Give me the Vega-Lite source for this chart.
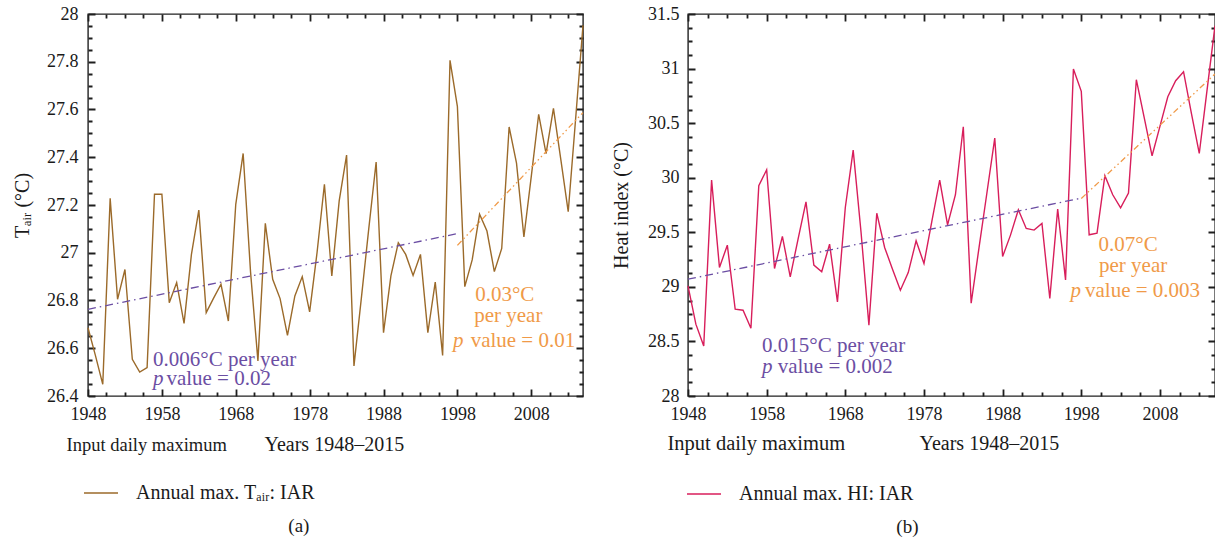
{
  "$schema": "https://vega.github.io/schema/vega-lite/v6.json",
  "background": "white",
  "padding": {"left": 11, "top": 4, "right": 2, "bottom": 2},
  "spacing": 23,
  "datasets": {
    "tair": [
      {"year":1948,"v":26.686},{"year":1949,"v":26.57},{"year":1950,"v":26.449},{"year":1951,"v":27.228},{"year":1952,"v":26.805},
      {"year":1953,"v":26.93},{"year":1954,"v":26.554},{"year":1955,"v":26.50},{"year":1956,"v":26.519},{"year":1957,"v":27.245},
      {"year":1958,"v":27.245},{"year":1959,"v":26.791},{"year":1960,"v":26.875},{"year":1961,"v":26.704},{"year":1962,"v":26.993},
      {"year":1963,"v":27.179},{"year":1964,"v":26.749},{"year":1965,"v":26.81},{"year":1966,"v":26.868},{"year":1967,"v":26.714},
      {"year":1968,"v":27.203},{"year":1969,"v":27.416},{"year":1970,"v":26.92},{"year":1971,"v":26.547},{"year":1972,"v":27.123},
      {"year":1973,"v":26.889},{"year":1974,"v":26.808},{"year":1975,"v":26.654},{"year":1976,"v":26.819},{"year":1977,"v":26.90},
      {"year":1978,"v":26.752},{"year":1979,"v":27.0},{"year":1980,"v":27.287},{"year":1981,"v":26.903},{"year":1982,"v":27.217},
      {"year":1983,"v":27.409},{"year":1984,"v":26.526},{"year":1985,"v":26.81},{"year":1986,"v":27.10},{"year":1987,"v":27.38},
      {"year":1988,"v":26.665},{"year":1989,"v":26.903},{"year":1990,"v":27.042},{"year":1991,"v":26.993},{"year":1992,"v":26.905},
      {"year":1993,"v":26.993},{"year":1994,"v":26.665},{"year":1995,"v":26.877},{"year":1996,"v":26.57},{"year":1997,"v":27.806},
      {"year":1998,"v":27.612},{"year":1999,"v":26.858},{"year":2000,"v":26.97},{"year":2001,"v":27.161},{"year":2002,"v":27.091},
      {"year":2003,"v":26.921},{"year":2004,"v":27.018},{"year":2005,"v":27.527},{"year":2006,"v":27.375},{"year":2007,"v":27.066},
      {"year":2008,"v":27.32},{"year":2009,"v":27.58},{"year":2010,"v":27.415},{"year":2011,"v":27.605},{"year":2012,"v":27.39},
      {"year":2013,"v":27.172},{"year":2014,"v":27.56},{"year":2015,"v":27.953}
    ],
    "hi": [
      {"year":1948,"v":29.009},{"year":1949,"v":28.658},{"year":1950,"v":28.459},{"year":1951,"v":29.978},{"year":1952,"v":29.177},
      {"year":1953,"v":29.382},{"year":1954,"v":28.795},{"year":1955,"v":28.786},{"year":1956,"v":28.621},{"year":1957,"v":29.926},
      {"year":1958,"v":30.073},{"year":1959,"v":29.168},{"year":1960,"v":29.462},{"year":1961,"v":29.092},{"year":1962,"v":29.44},
      {"year":1963,"v":29.779},{"year":1964,"v":29.199},{"year":1965,"v":29.138},{"year":1966,"v":29.391},{"year":1967,"v":28.862},
      {"year":1968,"v":29.727},{"year":1969,"v":30.253},{"year":1970,"v":29.5},{"year":1971,"v":28.649},{"year":1972,"v":29.675},
      {"year":1973,"v":29.361},{"year":1974,"v":29.162},{"year":1975,"v":28.969},{"year":1976,"v":29.131},{"year":1977,"v":29.422},
      {"year":1978,"v":29.214},{"year":1979,"v":29.6},{"year":1980,"v":29.978},{"year":1981,"v":29.568},{"year":1982,"v":29.844},
      {"year":1983,"v":30.467},{"year":1984,"v":28.85},{"year":1985,"v":29.36},{"year":1986,"v":29.86},{"year":1987,"v":30.363},
      {"year":1988,"v":29.278},{"year":1989,"v":29.474},{"year":1990,"v":29.706},{"year":1991,"v":29.535},{"year":1992,"v":29.52},
      {"year":1993,"v":29.581},{"year":1994,"v":28.893},{"year":1995,"v":29.712},{"year":1996,"v":29.064},{"year":1997,"v":30.996},
      {"year":1998,"v":30.791},{"year":1999,"v":29.477},{"year":2000,"v":29.492},{"year":2001,"v":30.018},{"year":2002,"v":29.844},
      {"year":2003,"v":29.724},{"year":2004,"v":29.859},{"year":2005,"v":30.898},{"year":2006,"v":30.55},{"year":2007,"v":30.201},
      {"year":2008,"v":30.47},{"year":2009,"v":30.742},{"year":2010,"v":30.889},{"year":2011,"v":30.971},{"year":2012,"v":30.59},
      {"year":2013,"v":30.222},{"year":2014,"v":30.81},{"year":2015,"v":31.393}
    ],
    "trendA1": [{"year":1948,"v":26.763},{"year":1998,"v":27.08}],
    "trendA2": [{"year":1998,"v":27.031},{"year":2015,"v":27.587}],
    "trendB1": [{"year":1948,"v":29.07},{"year":1998,"v":29.813}],
    "trendB2": [{"year":1998,"v":29.81},{"year":2015,"v":30.95}],
    "annA_purple": [{"year":1956.81,"v":26.551,"t":"0.006°C per year"},{"year":1958.61,"v":26.47,"t":"value = 0.02"}],
    "annA_purple_p": [{"year":1956.81,"v":26.47,"t":"p"}],
    "annA_orange_c": [{"year":2004.41,"v":26.822,"t":"0.03°C"},{"year":2004.89,"v":26.735,"t":"per year"}],
    "annA_orange_l": [{"year":1999.79,"v":26.63,"t":"value = 0.01"}],
    "annA_orange_p": [{"year":1997.40,"v":26.63,"t":"p"}],
    "annB_purple": [{"year":1957.41,"v":28.459,"t":"0.015°C per year"},{"year":1959.4,"v":28.269,"t":"value = 0.002"}],
    "annB_purple_p": [{"year":1957.41,"v":28.269,"t":"p"}],
    "annB_orange_c": [{"year":2003.95,"v":29.382,"t":"0.07°C"},{"year":2004.59,"v":29.192,"t":"per year"}],
    "annB_orange_l": [{"year":1998.47,"v":28.963,"t":"value = 0.003"}],
    "annB_orange_p": [{"year":1996.64,"v":28.963,"t":"p"}]
  },
  "hconcat": [
    {
      "width": 495,
      "height": 382,
      "title": {"text": "(a)", "orient": "bottom", "anchor": "middle", "frame": "bounds", "offset": 14},
      "resolve": {"axis": {"x": "independent", "y": "independent"}},
      "layer": [
        {
          "data": {"name": "tair"},
          "mark": {"type": "line", "strokeWidth": 1.4},
          "encoding": {
            "x": {"field": "year", "type": "quantitative", "scale": {"domain": [1948, 2015], "nice": false, "zero": false},
                  "axis": {"orient": "bottom", "values": [1948,1958,1968,1978,1988,1998,2008], "format": "d", "ticks": false, "labelPadding": 9, "labelFlush": false,
                           "grid": true, "gridDash": [7, 368, 7, 2000], "gridColor": "#1f1f1f", "gridWidth": 1.8, "gridOpacity": 1,
                           "title": "Years 1948–2015", "titleX": 176, "titleY": 48, "titleAlign": "left", "titleAnchor": "start", "titleBaseline": "middle", "titleFontSize": 20}},
            "y": {"field": "v", "type": "quantitative", "scale": {"domain": [26.4, 28], "nice": false, "zero": false},
                  "axis": {"orient": "left", "values": [26.4,26.6,26.8,27,27.2,27.4,27.6,27.8,28], "format": "~g", "ticks": false, "labelPadding": 10, "labelFlush": false,
                           "grid": true, "gridDash": [7, 481, 7, 2000], "gridColor": "#1f1f1f", "gridWidth": 1.8, "gridOpacity": 1,
                           "title": "Tₐᵢᵣ (°C)", "titleX": -66, "titleY": 191, "titleAlign": "center", "titleBaseline": "middle", "titleAngle": -90, "titleFontSize": 20}},
            "color": {"datum": "Annual max. Tₐᵢᵣ: IAR", "type": "nominal", "scale": {"range": ["#9b6a2a"]},
                      "legend": {"orient": "none", "legendX": -5, "legendY": 461, "title": null}}
          }
        },
        {
          "data": {"name": "trendA1"},
          "mark": {"type": "line", "strokeWidth": 1.3, "color": "#6b4ea3", "strokeDash": [8, 4, 1.5, 4]},
          "encoding": {
            "x": {"field": "year", "type": "quantitative", "scale": {"domain": [1948, 2015], "nice": false, "zero": false},
                  "axis": {"orient": "bottom", "values": [1950.5,1953,1955.5,1960.5,1963,1965.5,1970.5,1973,1975.5,1980.5,1983,1985.5,1990.5,1993,1995.5,2000.5,2003,2005.5,2010.5,2013], "labels": false, "ticks": false,
                           "grid": true, "gridDash": [4, 374, 4, 2000], "gridColor": "#1f1f1f", "gridWidth": 1.8, "gridOpacity": 1,
                           "title": "Input daily maximum", "titleX": -22, "titleY": 48, "titleAlign": "left", "titleAnchor": "start", "titleBaseline": "middle", "titleFontSize": 18.5}},
            "y": {"field": "v", "type": "quantitative", "scale": {"domain": [26.4, 28], "nice": false, "zero": false},
                  "axis": {"orient": "left", "values": [26.45,26.5,26.55,26.65,26.7,26.75,26.85,26.9,26.95,27.05,27.1,27.15,27.25,27.3,27.35,27.45,27.5,27.55,27.65,27.7,27.75,27.85,27.9,27.95], "labels": false, "ticks": false,
                           "grid": true, "gridDash": [4, 487, 4, 2000], "gridColor": "#1f1f1f", "gridWidth": 1.8, "gridOpacity": 1, "title": null}}
          }
        },
        {
          "data": {"name": "trendA2"},
          "mark": {"type": "line", "strokeWidth": 1.3, "color": "#f09a48", "strokeDash": [6, 3, 1.5, 3, 1.5, 3]},
          "encoding": {
            "x": {"field": "year", "type": "quantitative", "scale": {"domain": [1948, 2015], "nice": false, "zero": false}, "axis": null},
            "y": {"field": "v", "type": "quantitative", "scale": {"domain": [26.4, 28], "nice": false, "zero": false}, "axis": null}
          }
        },
        {
          "data": {"name": "annA_purple"},
          "mark": {"type": "text", "align": "left", "baseline": "middle", "fontSize": 21, "color": "#6b4ea3"},
          "encoding": {
            "x": {"field": "year", "type": "quantitative", "scale": {"domain": [1948, 2015], "nice": false, "zero": false}, "axis": null},
            "y": {"field": "v", "type": "quantitative", "scale": {"domain": [26.4, 28], "nice": false, "zero": false}, "axis": null},
            "text": {"field": "t"}
          }
        },
        {
          "data": {"name": "annA_orange_c"},
          "mark": {"type": "text", "align": "center", "baseline": "middle", "fontSize": 21, "color": "#f09a48"},
          "encoding": {
            "x": {"field": "year", "type": "quantitative", "scale": {"domain": [1948, 2015], "nice": false, "zero": false}, "axis": null},
            "y": {"field": "v", "type": "quantitative", "scale": {"domain": [26.4, 28], "nice": false, "zero": false}, "axis": null},
            "text": {"field": "t"}
          }
        },
        {
          "data": {"name": "annA_orange_l"},
          "mark": {"type": "text", "align": "left", "baseline": "middle", "fontSize": 21, "color": "#f09a48"},
          "encoding": {
            "x": {"field": "year", "type": "quantitative", "scale": {"domain": [1948, 2015], "nice": false, "zero": false}, "axis": null},
            "y": {"field": "v", "type": "quantitative", "scale": {"domain": [26.4, 28], "nice": false, "zero": false}, "axis": null},
            "text": {"field": "t"}
          }
        },
        {
          "data": {"name": "annA_orange_p"},
          "mark": {"type": "text", "align": "left", "baseline": "middle", "fontSize": 21, "fontStyle": "italic", "color": "#f09a48"},
          "encoding": {
            "x": {"field": "year", "type": "quantitative", "scale": {"domain": [1948, 2015], "nice": false, "zero": false}, "axis": null},
            "y": {"field": "v", "type": "quantitative", "scale": {"domain": [26.4, 28], "nice": false, "zero": false}, "axis": null},
            "text": {"field": "t"}
          }
        },
        {
          "data": {"name": "annA_purple_p"},
          "mark": {"type": "text", "align": "left", "baseline": "middle", "fontSize": 21, "fontStyle": "italic", "color": "#6b4ea3"},
          "encoding": {
            "x": {"field": "year", "type": "quantitative", "scale": {"domain": [1948, 2015], "nice": false, "zero": false}, "axis": null},
            "y": {"field": "v", "type": "quantitative", "scale": {"domain": [26.4, 28], "nice": false, "zero": false}, "axis": null},
            "text": {"field": "t"}
          }
        }
      ]
    },
    {
      "width": 527,
      "height": 382,
      "title": {"text": "(b)", "orient": "bottom", "anchor": "middle", "frame": "bounds", "offset": 14, "dx": -7},
      "resolve": {"axis": {"x": "independent", "y": "independent"}},
      "layer": [
        {
          "data": {"name": "hi"},
          "mark": {"type": "line", "strokeWidth": 1.4},
          "encoding": {
            "x": {"field": "year", "type": "quantitative", "scale": {"domain": [1948, 2015], "nice": false, "zero": false},
                  "axis": {"orient": "bottom", "values": [1948,1958,1968,1978,1988,1998,2008], "format": "d", "ticks": false, "labelPadding": 9, "labelFlush": false,
                           "grid": true, "gridDash": [7, 368, 7, 2000], "gridColor": "#1f1f1f", "gridWidth": 1.8, "gridOpacity": 1,
                           "title": "Years 1948–2015", "titleX": 231, "titleY": 47, "titleAlign": "left", "titleAnchor": "start", "titleBaseline": "middle", "titleFontSize": 20}},
            "y": {"field": "v", "type": "quantitative", "scale": {"domain": [28, 31.5], "nice": false, "zero": false},
                  "axis": {"orient": "left", "values": [28,28.5,29,29.5,30,30.5,31,31.5], "format": "~g", "ticks": false, "labelPadding": 9, "labelFlush": false,
                           "grid": true, "gridDash": [7, 513, 7, 2000], "gridColor": "#1f1f1f", "gridWidth": 1.8, "gridOpacity": 1,
                           "title": "Heat index (°C)", "titleX": -67, "titleY": 191, "titleAlign": "center", "titleBaseline": "middle", "titleAngle": -90, "titleFontSize": 20}},
            "color": {"datum": "Annual max. HI: IAR", "type": "nominal", "scale": {"range": ["#d81e5b"]},
                      "legend": {"orient": "none", "legendX": -2, "legendY": 462, "title": null}}
          }
        },
        {
          "data": {"name": "trendB1"},
          "mark": {"type": "line", "strokeWidth": 1.3, "color": "#6b4ea3", "strokeDash": [8, 4, 1.5, 4]},
          "encoding": {
            "x": {"field": "year", "type": "quantitative", "scale": {"domain": [1948, 2015], "nice": false, "zero": false},
                  "axis": {"orient": "bottom", "values": [1950.5,1953,1955.5,1960.5,1963,1965.5,1970.5,1973,1975.5,1980.5,1983,1985.5,1990.5,1993,1995.5,2000.5,2003,2005.5,2010.5,2013], "labels": false, "ticks": false,
                           "grid": true, "gridDash": [4, 374, 4, 2000], "gridColor": "#1f1f1f", "gridWidth": 1.8, "gridOpacity": 1,
                           "title": "Input daily maximum", "titleX": -21, "titleY": 47, "titleAlign": "left", "titleAnchor": "start", "titleBaseline": "middle", "titleFontSize": 20.5}},
            "y": {"field": "v", "type": "quantitative", "scale": {"domain": [28, 31.5], "nice": false, "zero": false},
                  "axis": {"orient": "left", "values": [28.125,28.25,28.375,28.625,28.75,28.875,29.125,29.25,29.375,29.625,29.75,29.875,30.125,30.25,30.375,30.625,30.75,30.875,31.125,31.25,31.375], "labels": false, "ticks": false,
                           "grid": true, "gridDash": [4, 519, 4, 2000], "gridColor": "#1f1f1f", "gridWidth": 1.8, "gridOpacity": 1, "title": null}}
          }
        },
        {
          "data": {"name": "trendB2"},
          "mark": {"type": "line", "strokeWidth": 1.3, "color": "#f09a48", "strokeDash": [6, 3, 1.5, 3, 1.5, 3]},
          "encoding": {
            "x": {"field": "year", "type": "quantitative", "scale": {"domain": [1948, 2015], "nice": false, "zero": false}, "axis": null},
            "y": {"field": "v", "type": "quantitative", "scale": {"domain": [28, 31.5], "nice": false, "zero": false}, "axis": null}
          }
        },
        {
          "data": {"name": "annB_purple"},
          "mark": {"type": "text", "align": "left", "baseline": "middle", "fontSize": 21, "color": "#6b4ea3"},
          "encoding": {
            "x": {"field": "year", "type": "quantitative", "scale": {"domain": [1948, 2015], "nice": false, "zero": false}, "axis": null},
            "y": {"field": "v", "type": "quantitative", "scale": {"domain": [28, 31.5], "nice": false, "zero": false}, "axis": null},
            "text": {"field": "t"}
          }
        },
        {
          "data": {"name": "annB_orange_c"},
          "mark": {"type": "text", "align": "center", "baseline": "middle", "fontSize": 21, "color": "#f09a48"},
          "encoding": {
            "x": {"field": "year", "type": "quantitative", "scale": {"domain": [1948, 2015], "nice": false, "zero": false}, "axis": null},
            "y": {"field": "v", "type": "quantitative", "scale": {"domain": [28, 31.5], "nice": false, "zero": false}, "axis": null},
            "text": {"field": "t"}
          }
        },
        {
          "data": {"name": "annB_orange_l"},
          "mark": {"type": "text", "align": "left", "baseline": "middle", "fontSize": 21, "color": "#f09a48"},
          "encoding": {
            "x": {"field": "year", "type": "quantitative", "scale": {"domain": [1948, 2015], "nice": false, "zero": false}, "axis": null},
            "y": {"field": "v", "type": "quantitative", "scale": {"domain": [28, 31.5], "nice": false, "zero": false}, "axis": null},
            "text": {"field": "t"}
          }
        },
        {
          "data": {"name": "annB_orange_p"},
          "mark": {"type": "text", "align": "left", "baseline": "middle", "fontSize": 21, "fontStyle": "italic", "color": "#f09a48"},
          "encoding": {
            "x": {"field": "year", "type": "quantitative", "scale": {"domain": [1948, 2015], "nice": false, "zero": false}, "axis": null},
            "y": {"field": "v", "type": "quantitative", "scale": {"domain": [28, 31.5], "nice": false, "zero": false}, "axis": null},
            "text": {"field": "t"}
          }
        },
        {
          "data": {"name": "annB_purple_p"},
          "mark": {"type": "text", "align": "left", "baseline": "middle", "fontSize": 21, "fontStyle": "italic", "color": "#6b4ea3"},
          "encoding": {
            "x": {"field": "year", "type": "quantitative", "scale": {"domain": [1948, 2015], "nice": false, "zero": false}, "axis": null},
            "y": {"field": "v", "type": "quantitative", "scale": {"domain": [28, 31.5], "nice": false, "zero": false}, "axis": null},
            "text": {"field": "t"}
          }
        }
      ]
    }
  ],
  "resolve": {"scale": {"color": "independent"}, "legend": {"color": "independent"}},
  "config": {
    "font": "Liberation Serif",
    "view": {"stroke": "#222222", "strokeWidth": 1.4},
    "axis": {
      "domain": false, "labelFont": "Liberation Serif", "titleFont": "Liberation Serif",
      "labelFontSize": 18, "labelColor": "#1a1a1a", "titleColor": "#1a1a1a", "titleFontWeight": "normal",
      "labelOverlap": false
    },
    "legend": {
      "symbolType": "stroke", "symbolSize": 1156, "symbolStrokeWidth": 1.4, "labelFont": "Liberation Serif",
      "labelFontSize": 20, "labelColor": "#1a1a1a", "labelOffset": 17, "padding": 0, "labelLimit": 400
    },
    "title": {"font": "Liberation Serif", "fontSize": 19, "fontWeight": "normal", "color": "#1a1a1a"},
    "text": {"font": "Liberation Serif"}
  }
}
